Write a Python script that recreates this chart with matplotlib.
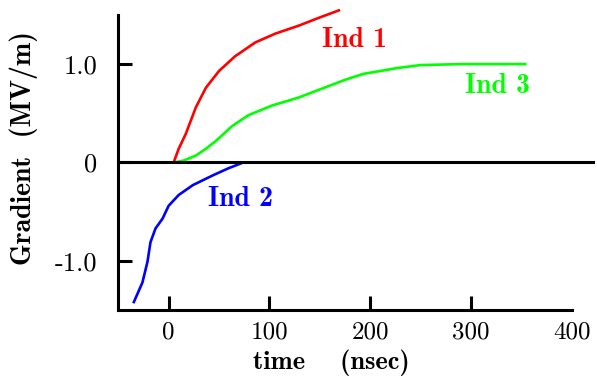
import matplotlib
matplotlib.use("Agg")
import matplotlib.pyplot as plt

plt.rcParams['axes.unicode_minus'] = False

# curves (time in nsec, gradient in MV/m)
t1 = [5, 10, 17, 27, 37, 50, 66, 86, 106, 129, 149, 170]
g1 = [0.0, 0.14, 0.29, 0.56, 0.76, 0.93, 1.08, 1.22, 1.31, 1.39, 1.47, 1.55]

t2 = [-35, -26, -21, -18, -13, -6, 0, 10, 24, 44, 59, 74]
g2 = [-1.43, -1.22, -1.01, -0.81, -0.67, -0.57, -0.44, -0.33, -0.23, -0.13, -0.06, 0.0]

t3 = [5, 15, 27, 37, 47, 63, 79, 103, 129, 152, 175, 193, 227, 250, 292, 355]
g3 = [0.0, 0.02, 0.07, 0.14, 0.22, 0.37, 0.48, 0.58, 0.66, 0.75, 0.84, 0.90, 0.96, 0.99, 1.0, 1.0]

xticks = [0, 100, 200, 300, 400]
yticks = [-1.0, 0, 1.0]
ytick_labels = ['-1.0', '0', '1.0']

fig = plt.figure(figsize=(5.97, 3.81), dpi=100)
ax = fig.add_axes([0.198, 0.186, 0.76, 0.775])

style = dict(lw=1.9, clip_on=False, solid_joinstyle='round', solid_capstyle='butt')
ax.plot(t1, g1, color='#ff0000', **style)
ax.plot(t2, g2, color='#0000ff', **style)
ax.plot(t3, g3, color='#00ff00', **style)
ax.plot([-50, 421], [0, 0], color='black', lw=2.2, clip_on=False)

bold = dict(family='cmb10', fontsize=20)
ax.text(184, 1.24, 'Ind 1', color='#ff0000', ha='center', va='center', **bold)
ax.text(71, -0.37, 'Ind 2', color='#0000ff', ha='center', va='center', **bold)
ax.text(326, 0.78, 'Ind 3', color='#00ff00', ha='center', va='center', **bold)

ax.set_xlim(-50, 400)
ax.set_ylim(-1.5, 1.5)
ax.set_xticks(xticks)
ax.set_xticklabels([str(v) for v in xticks], family='cmr10', fontsize=18)
ax.set_yticks(yticks)
ax.set_yticklabels(ytick_labels, family='cmr10', fontsize=19)
ax.tick_params(direction='in', length=10, width=2.2)
ax.tick_params(axis='x', pad=8)
ax.tick_params(axis='y', pad=15)
ax.xaxis.get_major_ticks()[-1].tick1line.set_visible(False)

for side in ['top', 'right']:
    ax.spines[side].set_visible(False)
for side in ['left', 'bottom']:
    ax.spines[side].set_linewidth(2.2)

ax.set_xlabel('time    (nsec)', family='cmb10', fontsize=19)
ax.xaxis.set_label_coords(0.469, -0.135)
ax.set_ylabel('Gradient  (MV/m)', family='cmb10', fontsize=20)
ax.yaxis.set_label_coords(-0.176, 0.55)

fig.savefig('out.png', dpi=100)
